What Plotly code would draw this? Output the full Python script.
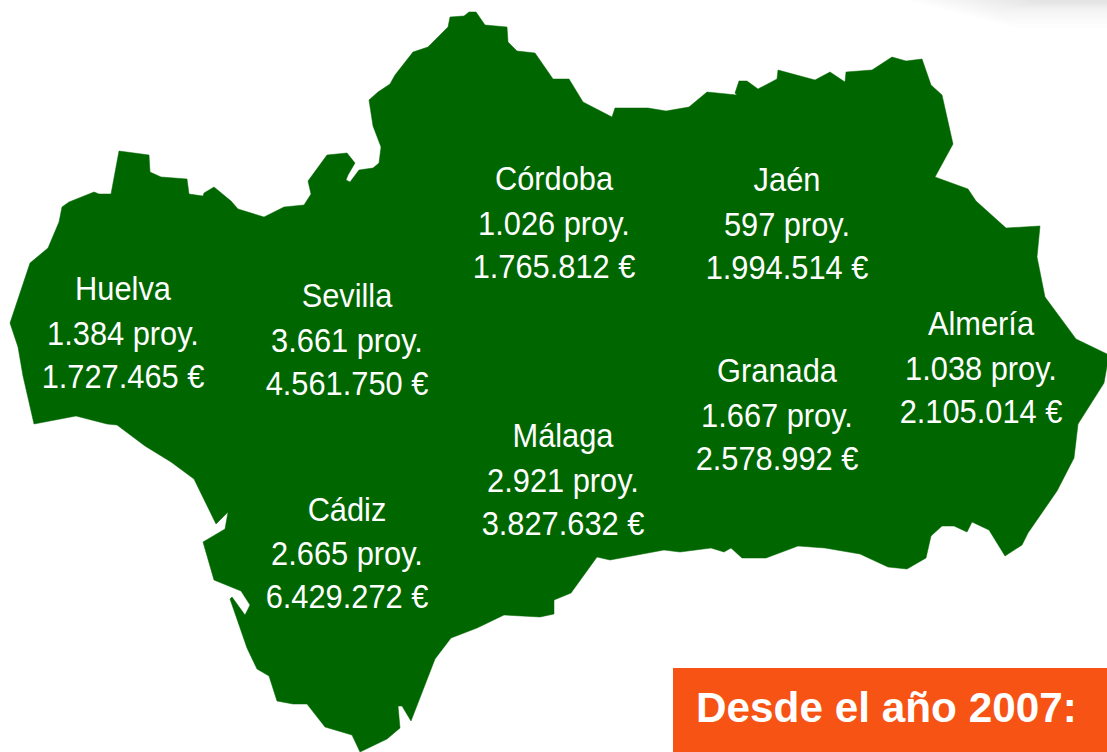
import plotly.graph_objects as go

# Region outline (image pixel units)
outline_x = [10,30,48,59,62,69,94,99,111,119,149,150,161,187,189,203,204,214,231,238,264,284,304,311,308,327,347,355,348,346,350,359,373,379,381,373,369,378,390,395,413,428,448,450,464,469,476,485,507,508,517,535,553,569,583,612,615,648,666,689,707,737,735,739,747,758,777,778,815,830,845,846,872,892,906,922,931,942,953,935,968,976,1006,1040,1037,1045,1076,1107,1107,1104,1078,1074,1057,1028,1022,1005,989,972,967,954,942,931,926,907,888,860,825,798,766,742,731,724,711,680,664,610,597,571,554,554,540,504,477,451,435,411,402,398,400,387,360,352,325,307,293,277,269,257,247,230,232,245,250,241,214,203,225,228,216,194,171,145,117,107,76,34,23,18]
outline_y = [323,263,248,222,207,202,192,194,194,151,155,172,177,179,194,196,193,187,201,209,217,207,205,194,181,155,153,163,175,180,182,170,168,163,147,126,100,92,84,75,52,47,27,17,16,12,12,25,27,42,51,53,79,79,102,117,108,108,111,107,92,95,93,81,81,89,79,70,80,72,82,72,70,57,61,59,85,95,144,177,189,201,228,226,257,297,339,354,366,383,424,458,491,533,545,556,530,522,532,526,526,536,558,569,567,554,548,546,558,558,548,552,548,552,550,560,557,593,600,614,617,615,628,638,659,721,706,706,728,739,752,735,727,704,704,701,676,669,648,599,597,615,605,591,580,542,529,512,524,479,462,446,425,424,416,424,376,347]

# Provinces
provinces = ["Huelva", "Sevilla", "Córdoba", "Jaén", "Granada", "Almería", "Málaga", "Cádiz"]
projects = ["1.384", "3.661", "1.026", "597", "1.667", "1.038", "2.921", "2.665"]
amounts = ["1.727.465", "4.561.750", "1.765.812", "1.994.514", "2.578.992", "2.105.014", "3.827.632", "6.429.272"]
label_x = [123, 347, 554, 787, 777, 981, 563, 347]
name_y = [292, 299, 182, 183, 374, 327, 439, 513]
proj_y = [337, 344, 227, 228, 419, 372, 484, 557]
amount_y = [380, 387, 270, 271, 462, 415, 527, 600]

banner_text = "Desde el año 2007:"
shadow_x0 = [905, 915, 925, 935, 945, 955, 965, 975, 985, 995, 1005, 1015, 1025, 1035]
shadow_h = [28, 24, 20, 17, 14, 12, 10, 8, 7, 6, 5, 4, 3, 2]

GREEN = "#006600"
ORANGE = "#F65314"
FONT = "Liberation Sans, Arial, sans-serif"

fig = go.Figure()
fig.add_trace(go.Scatter(x=outline_x + outline_x[:1], y=outline_y + outline_y[:1], mode="lines",
                         fill="toself", fillcolor=GREEN, line=dict(color=GREEN, width=0.5),
                         hoverinfo="skip", showlegend=False))

for ys, texts in [(name_y, provinces),
                  (proj_y, [f"{p} proy." for p in projects]),
                  (amount_y, [f"{a} €" for a in amounts])]:
    fig.add_trace(go.Scatter(x=label_x, y=ys, text=texts, mode="text", textposition="middle center",
                             textfont=dict(family=FONT, size=33, color="white"),
                             hoverinfo="skip", showlegend=False))

shapes = [dict(type="path", layer="below", line=dict(width=0), fillcolor="rgba(0,0,0,0.009)",
               path=f"M{x0},0 L1107,0 L1107,{h} L{x0 + 4 * h},{h} Z")
          for x0, h in zip(shadow_x0, shadow_h)]
shapes.append(dict(type="rect", x0=673, x1=1107, y0=668, y1=752, line=dict(width=0), fillcolor=ORANGE, layer="above"))

fig.update_layout(
    width=1107, height=752, margin=dict(l=0, r=0, t=0, b=0),
    paper_bgcolor="white", plot_bgcolor="white",
    xaxis=dict(range=[0, 1107], visible=False, fixedrange=True),
    yaxis=dict(range=[752, 0], visible=False, fixedrange=True),
    shapes=shapes,
    annotations=[dict(x=694, y=707, text=f"<b>{banner_text}</b>", showarrow=False, xanchor="left", yanchor="middle",
                      font=dict(family=FONT, size=42.3, color="white"))],
)

squeeze = """
document.body.style.margin='0';document.body.style.overflow='hidden';
document.querySelectorAll('.textpoint text').forEach(function(t){
  t.setAttribute('lengthAdjust','spacingAndGlyphs');
  t.setAttribute('textLength', (t.getComputedTextLength()*0.933).toFixed(1));
});
"""
fig.write_html("out.html", config=dict(displayModeBar=False), post_script=squeeze)
